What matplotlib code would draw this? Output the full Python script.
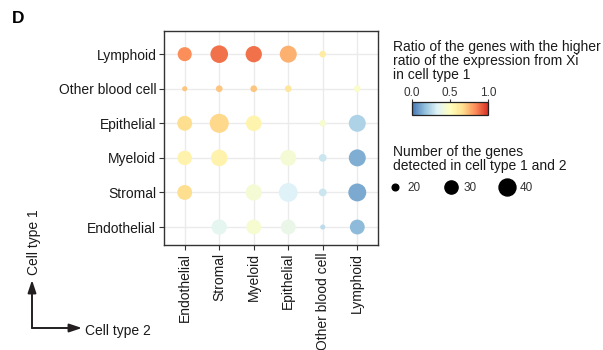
import numpy as np
import matplotlib
matplotlib.use("Agg")
import matplotlib.pyplot as plt
from matplotlib.colors import LinearSegmentedColormap, Normalize
from matplotlib.lines import Line2D
from matplotlib.patches import FancyArrowPatch

plt.rcParams["font.family"] = ["Liberation Sans", "DejaVu Sans"]

# -- Donnees --
CELL_TYPES = ["Endothelial", "Stromal", "Myeloid", "Epithelial",
              "Other blood cell", "Lymphoid"]

# lignes = cell type 1 (bas -> haut), colonnes = cell type 2
RATIO = np.array([
    [np.nan, 0.36, 0.45, 0.38, 0.26, 0.16],   # Endothelial
    [0.67, np.nan, 0.44, 0.33, 0.29, 0.12],   # Stromal
    [0.57, 0.57, np.nan, 0.44, 0.29, 0.13],   # Myeloid
    [0.67, 0.68, 0.56, np.nan, 0.45, 0.23],   # Epithelial
    [0.72, 0.72, 0.72, 0.63, np.nan, 0.47],   # Other blood cell
    [0.83, 0.88, 0.88, 0.76, 0.60, np.nan],   # Lymphoid
])

N_GENES = np.array([
    [np.nan, 35, 34, 34, 19, 34],
    [34, np.nan, 38, 46, 21, 43],
    [33, 39, np.nan, 37, 21, 40],
    [34, 47, 36, np.nan, 20, 40],
    [19, 20, 20, 20, np.nan, 20],
    [32, 42, 38, 40, 20, np.nan],
])

SIZE_BREAKS = [20, 30, 40]
CBAR_TICKS = [0.0, 0.5, 1.0]

# RdYlBu 7 classes (bleu -> rouge)
PALETTE = ["#4575b4", "#91bfdb", "#e0f3f8", "#ffffbf",
           "#fee090", "#fc8d59", "#d73027"]
cmap = LinearSegmentedColormap.from_list("rdylbu7", PALETTE)
norm = Normalize(0, 1)

TXT = "#1a1a1a"
DPI = 100


def diam_px(v):
    v = np.asarray(v, dtype=float)
    return 3 + 15.5 * np.sqrt(np.clip(v - 18.5, 0, None) / 26.5)


def msize(v):
    # aire scatter en points^2
    return (diam_px(v) * 72 / DPI) ** 2


fig = plt.figure(figsize=(603 / DPI, 350 / DPI), dpi=DPI)
ax = fig.add_axes([164 / 603, 1 - 245 / 350, 214 / 603, 214 / 350])

n = len(CELL_TYPES)
xx, yy = np.meshgrid(np.arange(n), np.arange(n))
mask = ~np.isnan(RATIO)
ax.scatter(xx[mask], yy[mask], s=msize(N_GENES[mask]), c=RATIO[mask],
           cmap=cmap, norm=norm, linewidths=0, zorder=3)

ax.set_xlim(-0.6, n - 0.4)
ax.set_ylim(-0.52, n - 0.33)
ax.set_xticks(range(n))
ax.set_yticks(range(n))
ax.set_xticklabels(CELL_TYPES, rotation=90, fontsize=10, color=TXT)
ax.set_yticklabels(CELL_TYPES, fontsize=10, color=TXT)
ax.tick_params(length=3.5, width=0.8, color="#333333", pad=2)
ax.grid(True, color="#ebebeb", linewidth=1.0, zorder=0)
ax.set_axisbelow(True)
for sp in ax.spines.values():
    sp.set_color("#333333")
    sp.set_linewidth(1.0)

# -- Legende couleur --
fig.text(393 / 603, 1 - 40 / 350,
         "Ratio of the genes with the higher\nratio of the expression from Xi\nin cell type 1",
         ha="left", va="top", fontsize=10, color=TXT, linespacing=1.0)
cax = fig.add_axes([412 / 603, 1 - 114.5 / 350, 76 / 603, 12.5 / 350])
sm = plt.cm.ScalarMappable(norm=norm, cmap=cmap)
cb = fig.colorbar(sm, cax=cax, orientation="horizontal", ticks=CBAR_TICKS)
cax.xaxis.set_ticks_position("top")
cax.tick_params(length=2, width=0.8, pad=0.5, labelsize=8.5,
                labelcolor="#333333", color="#333333")
cb.set_ticklabels([f"{t:.1f}" for t in CBAR_TICKS])
cb.outline.set_linewidth(0.9)
cb.outline.set_edgecolor("#222222")

# -- Legende taille --
fig.text(393 / 603, 1 - 145 / 350,
         "Number of the genes\ndetected in cell type 1 and 2",
         ha="left", va="top", fontsize=10, color=TXT, linespacing=1.0)
handles = [Line2D([], [], marker="o", ls="", color="black",
                  markersize=float(diam_px(v)) * 72 / DPI) for v in SIZE_BREAKS]
fig.legend(handles, [str(v) for v in SIZE_BREAKS], ncol=3, frameon=False,
           loc="center left", bbox_to_anchor=(389 / 603, 1 - 188 / 350),
           fontsize=8.5, handlelength=1.0, handletextpad=0.58,
           columnspacing=2.06, borderpad=0, borderaxespad=0,
           labelcolor="#333333")

# -- Fleches cell type --
arrow = dict(arrowstyle="-|>,head_length=0.75,head_width=0.25",
             color="#231f20", lw=1.4, shrinkA=0, shrinkB=0)
fig.add_artist(FancyArrowPatch((32 / 603, 22 / 350), (32 / 603, 70 / 350),
                               transform=fig.transFigure, mutation_scale=10,
                               **arrow))
fig.add_artist(FancyArrowPatch((32 / 603, 22 / 350), (82 / 603, 22 / 350),
                               transform=fig.transFigure, mutation_scale=10,
                               **arrow))
fig.text(34 / 603, 1 - 242 / 350, "Cell type 1", rotation=90,
         ha="center", va="center", fontsize=10, color=TXT)
fig.text(85 / 603, 19 / 350, "Cell type 2", ha="left", va="center",
         fontsize=10, color=TXT)

fig.text(12 / 603, 1 - 11 / 350, "D", ha="left", va="top",
         fontsize=12.5, fontweight="bold", color="black")

fig.savefig("out.png", dpi=DPI)
